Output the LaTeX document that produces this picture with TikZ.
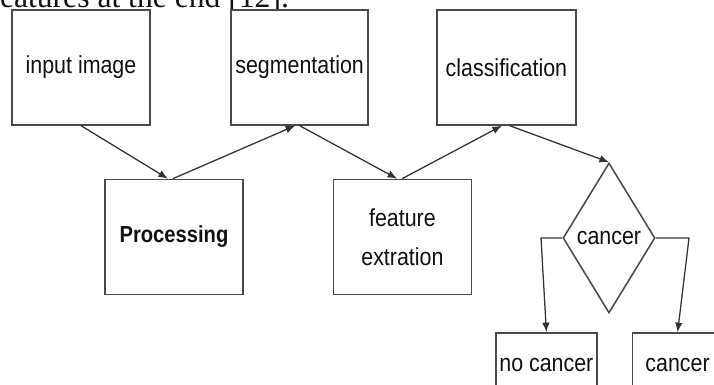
\documentclass[tikz,border=0pt]{standalone}
\usepackage{fontspec}
\usepackage{graphicx}
\setmainfont{Liberation Serif}
\setsansfont{Liberation Sans}
\usepackage{tikz}
\usetikzlibrary{arrows.meta,positioning,shapes.geometric,calc}
\definecolor{FlowInk}{HTML}{111111}
\definecolor{FlowLine}{HTML}{4A4A4A}
\definecolor{FlowEdge}{HTML}{333333}
\newcommand{\narrowtext}[1]{\scalebox{0.87}[1]{#1}}
\tikzset{
  flowlabel/.style={font=\sffamily\fontsize{17.5}{28}\selectfont, text=FlowInk},
  flowbox/.style={draw=FlowLine, line width=1.1pt, fill=white, align=center, inner sep=0pt},
  stagebox/.style={flowbox, minimum width=3.45cm, minimum height=2.875cm},
  endbox/.style={flowbox, minimum height=1.6cm},
  decbox/.style={flowbox, diamond, minimum width=2.3cm, minimum height=3.75cm},
  flowarrow/.style={-{Latex[length=2.4mm,width=1.9mm]}, line width=0.9pt, draw=FlowEdge}
}

\begin{document}
\begin{tikzpicture}[every node/.style={flowlabel}]
\useasboundingbox (0,0) rectangle (17.85,9.625);
\clip (0,0) rectangle (17.85,9.625);
\fill[white] (0,0) rectangle (17.85,9.625);
% running text of the page, cut at the top
\node[font=\rmfamily\fontsize{22.5}{26}\selectfont, anchor=base west, inner sep=0pt] (runin) at (-0.27,9.44) {features at the end [12].};
% upper row
\node[stagebox] (inimg) at (2.025,7.94) {\narrowtext{input image}};
\node[stagebox, minimum width=3.43cm] (seg) at (7.49,7.94) {\narrowtext{segmentation}};
\node[stagebox, minimum width=3.48cm] (cls) at (12.66,7.94) {\narrowtext{classification}};
% lower row
\node[stagebox, font=\sffamily\bfseries\fontsize{16.5}{28}\selectfont] (proc) at (4.35,3.7) {\narrowtext{Processing}};
\node[stagebox] (feat) at (10.06,3.7) {\narrowtext{feature}\\\narrowtext{extration}};
\node[decbox] (dec) at (15.225,3.675) {\narrowtext{cancer}};
% outcomes
\node[endbox, minimum width=2.525cm] (nocan) at (13.66,0.5) {\narrowtext{no cancer}};
\node[endbox, minimum width=2.25cm] (can) at (16.94,0.5) {\narrowtext{cancer}};
\coordinate (nl) at (13.525,3.675);
\coordinate (nr) at (17.225,3.675);
\draw[flowarrow] (inimg.south) -- ([xshift=-0.15cm]proc.north);
\draw[flowarrow] ([xshift=-0.03cm]proc.north) -- ([xshift=-0.11cm]seg.south);
\draw[flowarrow] (seg.south) -- ([xshift=-0.13cm]feat.north);
\draw[flowarrow] ([xshift=-0.01cm]feat.north) -- ([xshift=-0.11cm]cls.south);
\draw[flowarrow] ([xshift=0.08cm]cls.south) -- (dec.north);
\draw[flowarrow] (dec.west) -- (nl) -- (nocan.north);
\draw[flowarrow] (dec.east) -- (nr) -- (can.north);
\end{tikzpicture}
\end{document}
